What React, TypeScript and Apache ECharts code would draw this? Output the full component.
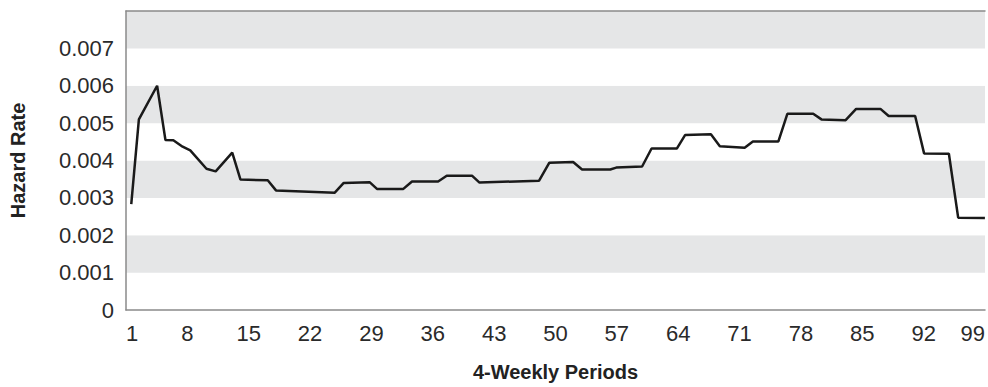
import React, { useEffect, useRef } from "react";
import * as echarts from "echarts";

// Hazard rate curve vertices: period (x) and hazard rate (y)
const periods: number[] = [
  1.6, 2.47, 4.55, 5.5, 6.4, 7.46, 8.33, 10.18, 11.23, 13.12, 14.06, 17.17, 18.11,
  24.82, 25.84, 28.79, 29.63, 32.64, 33.63, 36.61, 37.59, 40.5, 41.33, 48.13,
  49.3, 52.01, 53.03, 56.25, 56.93, 59.88, 60.96, 63.84, 64.78, 67.73, 68.75,
  71.58, 72.52, 75.43, 76.45, 79.4, 80.34, 83.1, 84.3, 87.07, 88.01, 91.03,
  92.05, 94.88, 95.94, 98.99,
];
const hazardRates: number[] = [
  0.00283, 0.0051, 0.006, 0.00455, 0.00454, 0.00437, 0.00427, 0.00378, 0.00371,
  0.00421, 0.00349, 0.00347, 0.0032, 0.00314, 0.0034, 0.00342, 0.00324, 0.00324,
  0.00344, 0.00344, 0.00359, 0.00359, 0.00341, 0.00346, 0.00394, 0.00396,
  0.00376, 0.00376, 0.00381, 0.00384, 0.00432, 0.00432, 0.00468, 0.0047,
  0.00438, 0.00434, 0.00451, 0.00451, 0.00525, 0.00525, 0.0051, 0.00508,
  0.00538, 0.00538, 0.00519, 0.00519, 0.00419, 0.00418, 0.00247, 0.00246,
];
const xTitle = "4-Weekly Periods";
const yTitle = "Hazard Rate";

const FONT = "'Liberation Sans', Arial, sans-serif";
const AXIS_COLOR = "#8a8a8a";
const LABEL_COLOR = "#2a2a2a";

export default function App() {
  const ref = useRef<HTMLDivElement>(null);
  useEffect(() => {
    if (!ref.current) return;
    const chart = echarts.init(ref.current, undefined, { renderer: "svg" });
    const data = periods.map((p, i) => [p, hazardRates[i]]);
    chart.setOption({
      animation: false,
      backgroundColor: "#ffffff",
      grid: { left: 123, right: 0, top: 11, bottom: 73 },
      xAxis: [
        {
          type: "value",
          min: 1,
          max: 99,
          interval: 7,
          name: xTitle,
          nameLocation: "middle",
          nameGap: 52,
          nameTextStyle: { fontFamily: FONT, fontSize: 20, fontWeight: "bold", color: "#222" },
          axisLine: { show: true, lineStyle: { color: AXIS_COLOR, width: 1.5 } },
          axisTick: { show: false },
          splitLine: { show: false },
          axisLabel: {
            fontFamily: FONT,
            fontSize: 22,
            color: LABEL_COLOR,
            margin: 12,
            alignMinLabel: "left",
            alignMaxLabel: "right",
          },
        },
        {
          type: "value",
          position: "top",
          min: 1,
          max: 99,
          axisLine: { show: true, lineStyle: { color: AXIS_COLOR, width: 1.5 } },
          axisTick: { show: false },
          axisLabel: { show: false },
          splitLine: { show: false },
        },
      ],
      yAxis: {
        type: "value",
        min: 0,
        max: 0.008,
        interval: 0.001,
        name: yTitle,
        nameLocation: "middle",
        nameGap: 98,
        nameTextStyle: { fontFamily: FONT, fontSize: 20, fontWeight: "bold", color: "#222" },
        axisLine: { show: true, lineStyle: { color: AXIS_COLOR, width: 1.5 } },
        axisTick: { show: false },
        splitLine: { show: false },
        splitArea: { show: true, areaStyle: { color: ["#ffffff", "#e5e6e7"] } },
        axisLabel: {
          fontFamily: FONT,
          fontSize: 22,
          color: LABEL_COLOR,
          margin: 12,
          formatter: (v: number) => {
            const k = Math.round(v * 1000);
            if (k === 8) return "";
            if (k === 0) return "0";
            return (k / 1000).toFixed(3);
          },
        },
      },
      series: [
        {
          type: "line",
          xAxisIndex: 0,
          data,
          symbol: "none",
          lineStyle: { color: "#1a1a1a", width: 2.5 },
        },
      ],
    });
    return () => chart.dispose();
  }, []);
  return (
    <div
      ref={ref}
      style={{ position: "fixed", left: 0, top: 0, width: 988, height: 387 }}
    />
  );
}
